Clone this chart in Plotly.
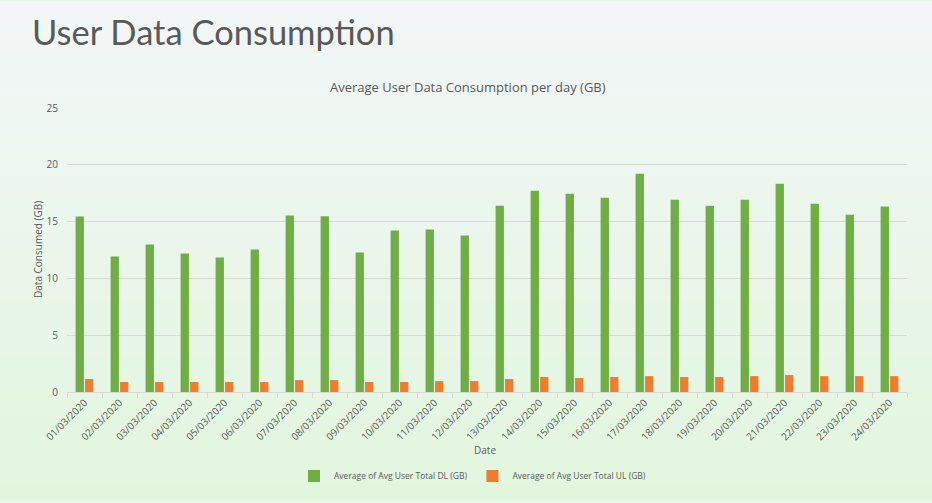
import plotly.graph_objects as go

dates = ["01/03/2020", "02/03/2020", "03/03/2020", "04/03/2020", "05/03/2020", "06/03/2020",
         "07/03/2020", "08/03/2020", "09/03/2020", "10/03/2020", "11/03/2020", "12/03/2020",
         "13/03/2020", "14/03/2020", "15/03/2020", "16/03/2020", "17/03/2020", "18/03/2020",
         "19/03/2020", "20/03/2020", "21/03/2020", "22/03/2020", "23/03/2020", "24/03/2020"]
dl_values = [15.45, 11.93, 12.98, 12.19, 11.84, 12.54, 15.53, 15.46, 12.28, 14.21, 14.30, 13.77,
             16.40, 17.72, 17.46, 17.10, 19.21, 16.93, 16.40, 16.93, 18.33, 16.58, 15.61, 16.32]
ul_values = [1.14, 0.88, 0.88, 0.88, 0.88, 0.88, 1.05, 1.05, 0.88, 0.88, 0.96, 0.96,
             1.14, 1.32, 1.23, 1.32, 1.40, 1.32, 1.32, 1.40, 1.49, 1.40, 1.40, 1.40]
y_ticks = [0, 5, 10, 15, 20, 25]

FONT = "Open Sans"
TXT = "#595959"

fig = go.Figure()
fig.add_trace(go.Bar(x=dates, y=dl_values, name="Average of Avg User Total DL (GB)",
                     marker=dict(color="#70AD47", line=dict(width=0))))
fig.add_trace(go.Bar(x=dates, y=ul_values, name="Average of Avg User Total UL (GB)",
                     marker=dict(color="#ED7D31", line=dict(width=0))))

W, H = 932, 503
L, R, T, B = 67, 25, 108, 108
ph = H - T - B
pw = W - L - R

def py(pix):
    return (H - B - pix) / ph

def px(pix):
    return (pix - L) / pw

# gradient background stripes
top = (242, 246, 247)
bot = (226, 246, 222)
shapes = []
n = 60
for i in range(n):
    f = i / (n - 1)
    c = tuple(round(top[k] + (bot[k] - top[k]) * f) for k in range(3))
    y0 = H * i / n
    y1 = H * (i + 1) / n + 1
    shapes.append(dict(type="rect", xref="paper", yref="paper",
                       x0=-0.2, x1=1.2, y0=py(y1), y1=py(y0),
                       fillcolor="rgb(%d,%d,%d)" % c, line=dict(width=0), layer="below"))

fig.update_layout(
    width=W, height=H,
    margin=dict(l=L, r=R, t=T, b=B),
    paper_bgcolor="rgb(234,246,235)",
    plot_bgcolor="rgba(0,0,0,0)",
    shapes=shapes,
    barmode="group", bargap=0.46, bargroupgap=0.12,
    font=dict(family=FONT, color=TXT, size=10),
    title=dict(text="User Data Consumption", x=32 / W, xanchor="left",
               y=1 - 33 / H, yanchor="middle", yref="container",
               font=dict(family="Lato", size=34.5, color=TXT)),
    showlegend=True,
    legend=dict(orientation="h", x=px(294), xanchor="left", y=py(480), yanchor="middle",
                font=dict(size=8.5, color=TXT), bgcolor="rgba(0,0,0,0)",
                itemwidth=30, tracegroupgap=0),
    xaxis=dict(type="category", tickangle=-45, tickfont=dict(size=10, color=TXT),
               showline=True, linecolor="#d9d9d9", linewidth=1,
               ticks="outside", tickson="boundaries", ticklen=5, tickcolor="#d9d9d9",
               showgrid=False),
    yaxis=dict(range=[0, 25], tickvals=y_ticks, tickfont=dict(size=10, color=TXT),
               showgrid=True, gridcolor="#d9d9d9", gridwidth=1, zeroline=False,
               showline=False, ticks="", ticklabelstandoff=8),
    annotations=[
        dict(text="Average User Data Consumption per day (GB)", xref="paper", yref="paper",
             x=px(468), y=py(87), xanchor="center", yanchor="middle", showarrow=False,
             font=dict(size=13, color=TXT)),
        dict(text="Data Consumed (GB)", xref="paper", yref="paper",
             x=px(38), y=0.5, textangle=-90, xanchor="center",
             yanchor="middle", showarrow=False, font=dict(size=10, color=TXT)),
        dict(text="Date", xref="paper", yref="paper", x=px(485), y=py(454),
             xanchor="center", yanchor="middle", showarrow=False,
             font=dict(size=10, color=TXT)),
    ],
)

fig.write_html("out.html", config={"displayModeBar": False},
               post_script="document.body.style.margin='0';document.body.style.padding='0';")
